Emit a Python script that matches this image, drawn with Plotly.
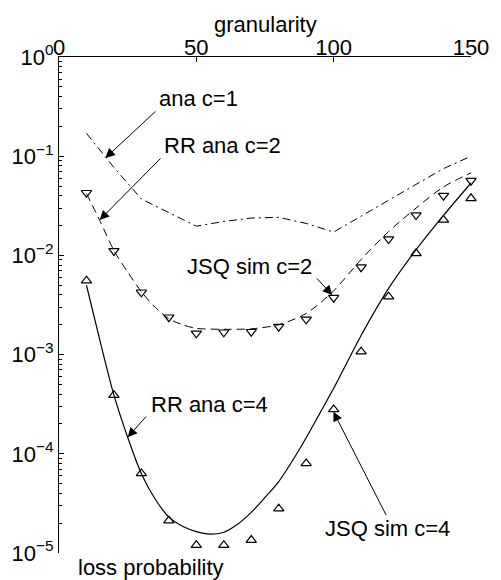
import plotly.graph_objects as go

# ---- data ----
sim_x = [10, 20, 30, 40, 50, 60, 70, 80, 90, 100, 110, 120, 130, 140, 150]
jsq_sim_c2 = [0.0428, 0.0111, 0.00425, 0.00238, 0.00164, 0.00168, 0.0017, 0.00191,
              0.00227, 0.00375, 0.0076, 0.0146, 0.0255, 0.040, 0.0566]
jsq_sim_c4 = [0.00556, 3.9e-4, 6.35e-5, 2.12e-5, 1.2e-5, 1.2e-5, 1.35e-5, 2.8e-5,
              8.0e-5, 2.8e-4, 1.07e-3, 3.84e-3, 0.0105, 0.0228, 0.0376]

ana_c1_x = [10, 20, 30, 40, 50, 60, 70, 80, 90, 100, 110, 120, 130, 140, 150]
ana_c1 = [0.17, 0.077, 0.037, 0.027, 0.0197, 0.022, 0.0238, 0.0242, 0.021, 0.0172,
          0.025, 0.036, 0.052, 0.075, 0.10]

rr_c2_x = [10, 15, 20, 25, 30, 35, 40, 45, 50, 60, 70, 80, 90, 100, 110, 120, 130, 140, 150]
rr_c2 = [0.042, 0.022, 0.0112, 0.0068, 0.0043, 0.003, 0.0023, 0.002, 0.00184, 0.0018,
         0.00182, 0.002, 0.0026, 0.0044, 0.0091, 0.0174, 0.030, 0.049, 0.068]

rr_c4_x = [10, 15, 20, 25, 30, 35, 40, 45, 50, 55, 60, 65, 70, 75, 80, 85, 90, 95,
           100, 110, 120, 130, 140, 150]
rr_c4 = [5.0e-3, 1.35e-3, 3.9e-4, 1.47e-4, 6.3e-5, 3.5e-5, 2.3e-5, 1.86e-5, 1.64e-5,
         1.55e-5, 1.62e-5, 1.95e-5, 2.57e-5, 3.63e-5, 5.25e-5, 8.5e-5, 1.45e-4, 2.57e-4,
         4.57e-4, 1.56e-3, 4.65e-3, 0.0114, 0.0253, 0.0537]

x_ticks = [0, 50, 100, 150]
y_ticks = [1e-5, 1e-4, 1e-3, 1e-2, 1e-1, 1]
y_ticktext = ["10<sup>−5</sup>", "10<sup>−4</sup>", "10<sup>−3</sup>",
              "10<sup>−2</sup>", "10<sup>−1</sup>", "10<sup>0</sup>"]

# labels: (text, text_x, text_logy, tail_x, tail_logy, tip_x, tip_logy)
labels = [
    ("ana c=1", 50.8, -0.423, 35.7, -0.534, 16.9, -1.018),
    ("RR ana c=2", 59.5, -0.897, 37.5, -1.008, 14.8, -1.643),
    ("JSQ sim c=2", 69.2, -2.107, 93.4, -2.218, 99.5, -2.399),
    ("RR ana c=4", 54.8, -3.508, 32.2, -3.609, 25.0, -3.834),
    ("JSQ sim c=4", 119.7, -4.758, 119.4, -4.634, 99.9, -3.576),
]

FONT = "Liberation Sans, Arial, sans-serif"
FS = 22

fig = go.Figure()
fig.add_trace(go.Scatter(x=ana_c1_x, y=ana_c1, mode="lines",
                         line=dict(color="black", width=1, dash="8px,4px,2px,4px")))
fig.add_trace(go.Scatter(x=rr_c2_x, y=rr_c2, mode="lines",
                         line=dict(color="black", width=1, dash="8px,5px",
                                   shape="spline", smoothing=0.8)))
fig.add_trace(go.Scatter(x=rr_c4_x, y=rr_c4, mode="lines",
                         line=dict(color="black", width=1.2, shape="spline", smoothing=0.8)))
fig.add_trace(go.Scatter(x=sim_x, y=jsq_sim_c2, mode="markers", cliponaxis=False,
                         marker=dict(symbol="triangle-down-open", size=9, color="black",
                                     line=dict(width=1.2, color="black"))))
fig.add_trace(go.Scatter(x=sim_x, y=jsq_sim_c4, mode="markers", cliponaxis=False,
                         marker=dict(symbol="triangle-up-open", size=9, color="black",
                                     line=dict(width=1.2, color="black"))))

for text, tx, ty, ax, ay, hx, hy in labels:
    fig.add_annotation(x=tx, y=ty, xref="x", yref="y", text=text, showarrow=False,
                       xanchor="center", yanchor="middle",
                       font=dict(family=FONT, size=FS, color="black"))
    fig.add_annotation(x=hx, y=hy, ax=ax, ay=ay, xref="x", yref="y", axref="x", ayref="y",
                       text="", showarrow=True, arrowhead=2, arrowsize=1.9, arrowwidth=1,
                       arrowcolor="black", standoff=0, startstandoff=0)

fig.add_annotation(x=0.5, y=1.0665, xref="paper", yref="paper", text="granularity",
                   showarrow=False, xanchor="center", yanchor="middle",
                   font=dict(family=FONT, size=FS, color="black"))
fig.add_annotation(x=0.2236, y=-0.0292, xref="paper", yref="paper", text="loss probability",
                   showarrow=False, xanchor="center", yanchor="middle",
                   font=dict(family=FONT, size=FS, color="black"))

fig.update_layout(
    width=501, height=580,
    margin=dict(l=59, r=26, t=57, b=27),
    paper_bgcolor="white", plot_bgcolor="white",
    showlegend=False,
    font=dict(family=FONT, size=FS, color="black"),
    xaxis=dict(side="top", range=[0, 150], tickvals=x_ticks, ticks="inside", ticklen=5,
               tickcolor="black", showline=True, linecolor="black", linewidth=1,
               showgrid=False, zeroline=False, mirror=False, ticklabelstandoff=-8,
               tickfont=dict(family=FONT, size=FS, color="black")),
    yaxis=dict(type="log", range=[-5, 0], tickvals=y_ticks, ticktext=y_ticktext,
               ticks="inside", ticklen=5, tickcolor="black", showline=True,
               linecolor="black", linewidth=1, showgrid=False, zeroline=False,
               mirror=False, tickfont=dict(family=FONT, size=FS, color="black"),
               minor=dict(ticks="inside", ticklen=3, tickcolor="black", dtick="D1",
                          showgrid=False)),
)

fig.write_html("out.html")
